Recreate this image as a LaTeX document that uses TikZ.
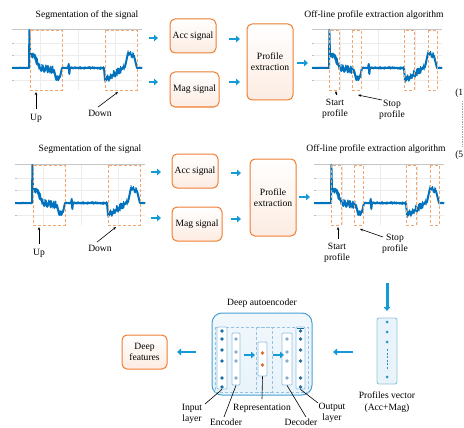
\documentclass[tikz,border=0pt]{standalone}
\usepackage{fontspec}
\setmainfont{Liberation Serif}
\usetikzlibrary{arrows.meta,calc}
\newdimen\px \px=0.75pt
\definecolor{sigblue}{RGB}{0,114,189}
\definecolor{arrblue}{RGB}{20,155,215}
\definecolor{oline}{RGB}{237,125,49}
\definecolor{odash}{RGB}{245,165,110}
\definecolor{ofill}{RGB}{253,236,226}
\definecolor{aeline}{RGB}{70,160,210}
\definecolor{aefill}{RGB}{232,243,250}
\definecolor{colline}{RGB}{150,195,225}
\definecolor{dotdark}{RGB}{25,110,170}
\definecolor{dotlight}{RGB}{140,170,200}
\definecolor{dotor}{RGB}{230,110,40}
\definecolor{vecdot}{RGB}{40,145,205}
\tikzset{
  sig/.style={draw=sigblue, line width=0.9\px, line join=round},
  gridl/.style={draw=gray!15, line width=0.6\px},
  framel/.style={draw=gray!45, line width=0.8\px},
  segbox/.style={draw=odash, dash pattern=on 3\px off 2\px, line width=0.8\px},
  obox/.style={draw=oline, line width=1\px, rounded corners=5\px, top color=white, bottom color=ofill, align=center, inner sep=1\px},
  barrow/.style={draw=arrblue, fill=arrblue, line width=2.6\px, -{Triangle[length=3pt, width=4.9pt]}},
  lblline/.style={draw=black, line width=0.6\px},
  lblarr/.style={draw=black, line width=0.6\px, -{Stealth[length=2.3pt, width=1.9pt]}},
  colbox/.style={draw=colline, fill=white, line width=0.8\px, rounded corners=1\px, inner sep=0},
  aedash/.style={draw=colline, dash pattern=on 3\px off 2\px, line width=0.9\px},
}
\newcommand{\plotbg}{%
  \foreach \gx in {28,66,103} {\draw[gridl] (\gx,0) -- (\gx,61);}
  \foreach \gy in {14,26,51} {\draw[gridl] (0,\gy) -- (130,\gy); \draw[gray!50, line width=0.6\px] (0,\gy) -- (2,\gy);}
  \draw[framel] (0,0) -- (130,0);
}
\newcommand{\drawsignal}{%
  \pgfmathsetseed{11}
  \draw[sig, line width=2\px] (0,39) -- (17,39) -- (17.4,1) -- (18,26) -- (22,27) -- (28,39) -- (42,41) -- (44,50) -- (48,48) -- (50,39) -- (56,39) -- (56.7,35) -- (57.3,45) -- (58,39) -- (92,39) -- (93,51) -- (113,38) -- (116,24) -- (122,27) -- (125,39) -- (130,39);
  \foreach \a/\b/\ya/\yb/\amp/\n in {0/17/39/39/1/30, 18/22/26/27/3/20, 22/28/27/39/4/30, 28/42/39/41/4/70, 44/48/50/48/3.5/25, 50/56/39/39/1/15, 58/92/39/39/1.4/90, 93/113/51/38/4/90, 116/122/24/27/3/30, 125/130/39/39/1/10}
  {\draw[sig] plot[domain=\a:\b, samples=\n] (\x, {\ya+(\yb-\ya)*(\x-\a)/(\b-\a)+\amp*rand});}
}
\newcommand{\segboxes}{%
  \draw[segbox] (18,1) rectangle (50,61);
  \draw[segbox] (93,1) rectangle (125,61);
}
\newcommand{\profboxes}{%
  \foreach \l/\r in {17/27, 40/49, 92/102, 116/125} {\draw[segbox] (\l,1) rectangle (\r,61);}
}
\begin{document}
\begin{tikzpicture}[x=0.75pt, y=-0.75pt, font=\fontsize{7.2}{8.4}\selectfont]
\useasboundingbox (0,0) rectangle (464,428);

% ---------- Row 1 ----------
\node (t1) at (87,15) {Segmentation of the signal};
\begin{scope}[shift={(12,29)}]
  \plotbg \drawsignal \segboxes
\end{scope}
\node (t2) at (374,15) {Off-line profile extraction algorithm};
\begin{scope}[shift={(312,29)}]
  \plotbg \drawsignal \profboxes
\end{scope}

\node[obox, minimum width=46\px, minimum height=34\px] (acc1) at (193,36) {Acc signal};
\node[obox, minimum width=49\px, minimum height=35\px] (mag1) at (194.5,89.5) {Mag signal};
\node[obox, minimum width=46\px, minimum height=76\px] (prof1) at (270,62) {Profile\\extraction};

\coordinate (a1s) at (149,38); \coordinate (a1e) at (158,38);
\coordinate (a2s) at (149,82); \coordinate (a2e) at (158,82);
\coordinate (a3s) at (229,39); \coordinate (a3e) at (240,39);
\coordinate (a4s) at (229,82); \coordinate (a4e) at (240,82);
\coordinate (a5s) at (297,63); \coordinate (a5e) at (308,63);
\foreach \i in {1,...,5} {\draw[barrow] (a\i s) -- (a\i e);}

\node (up1) at (36,118) {Up};
\coordinate (up1t) at (36,92);
\draw[lblarr] (up1.north) -- (up1t);
\node (dn1) at (100,113) {Down};
\coordinate (dn1t) at (118,92);
\draw[lblarr] ($(dn1.north)+(-2,2)$) -- (dn1t);
\node[align=center] (st1) at (335,108.5) {Start\\profile};
\coordinate (st1t) at (336,91);
\draw[lblarr] (st1.north) ++(1,1) -- (st1t);
\node[align=center] (sp1) at (392,110) {Stop\\profile};
\coordinate (sp1s) at (382,100); \coordinate (sp1t) at (358,95);
\draw[lblarr] (sp1s) -- (sp1t);

% ---------- Row 2 ----------
\node (t3) at (90,149) {Segmentation of the signal};
\begin{scope}[shift={(15,164)}]
  \plotbg \drawsignal \segboxes
\end{scope}
\node (t4) at (376,149) {Off-line profile extraction algorithm};
\begin{scope}[shift={(314,164)}]
  \plotbg \drawsignal \profboxes
\end{scope}

\node[obox, minimum width=46\px, minimum height=34\px] (acc2) at (195,171) {Acc signal};
\node[obox, minimum width=50\px, minimum height=34\px] (mag2) at (197,224) {Mag signal};
\node[obox, minimum width=46\px, minimum height=77\px] (prof2) at (273,197.5) {Profile\\extraction};

\coordinate (b1s) at (151,172); \coordinate (b1e) at (161,172);
\coordinate (b2s) at (151,218); \coordinate (b2e) at (161,218);
\coordinate (b3s) at (231,173); \coordinate (b3e) at (241,173);
\coordinate (b4s) at (231,219); \coordinate (b4e) at (241,219);
\coordinate (b5s) at (299,197); \coordinate (b5e) at (310,197);
\foreach \i in {1,...,5} {\draw[barrow] (b\i s) -- (b\i e);}

\node (up2) at (39,253) {Up};
\coordinate (up2t) at (39,227);
\draw[lblarr] (up2.north) -- (up2t);
\node (dn2) at (100,248) {Down};
\coordinate (dn2t) at (116,227);
\draw[lblarr] ($(dn2.north)+(-3,2)$) -- (dn2t);
\node[align=center] (st2) at (337,252.5) {Start\\profile};
\coordinate (st2t) at (338,227);
\draw[lblarr] (st2.north) ++(1,1) -- (st2t);
\node[align=center] (sp2) at (395,243.5) {Stop\\profile};
\coordinate (sp2s) at (383,237); \coordinate (sp2t) at (360,229);
\draw[lblarr] (sp2s) -- (sp2t);

% right edge marks
\node[anchor=west, inner sep=0] (r1) at (455,93) {(1};
\node[anchor=west, inner sep=0] (r5) at (455,155) {(5};
\coordinate (rd1) at (462,101); \coordinate (rd2) at (462,147);
\draw[gray!70, dash pattern=on 1.5\px off 1\px, line width=1\px] (rd1) -- (rd2);

% ---------- Bottom ----------
\coordinate (dvs) at (387,283); \coordinate (dve) at (387,311);
\draw[barrow, line width=3\px] (dvs) -- (dve);

\node[draw=colline, fill=aefill, line width=0.9\px, rounded corners=2\px, minimum width=20\px, minimum height=66\px, inner sep=0] (vec) at (387,351) {};
\foreach \vy in {322,332,342,377} {\fill[vecdot] (387,\vy) circle[radius=1.5\px];}
\draw[vecdot, dash pattern=on 2\px off 1.5\px, line width=0.8\px] (387,349) -- (387,370);
\node[align=center, anchor=north] (veclbl) at ($(vec.south)+(0,3)$) {Profiles vector\\(Acc+Mag)};

\coordinate (l1s) at (353,352); \coordinate (l1e) at (333,352);
\draw[barrow] (l1s) -- (l1e);

\node (aet) at (262,303) {Deep autoencoder};
\node[draw=aeline, line width=1\px, rounded corners=10\px, top color=aefill!60, bottom color=aefill, minimum width=100\px, minimum height=82\px] (ae) at (262,354) {};
\draw[aedash] (215,327) rectangle (272,392);
\draw[aedash] (256,327) rectangle (308,392);

\node[colbox, minimum width=10\px, minimum height=62\px] (inl) at (222,358) {};
\node[colbox, minimum width=8\px, minimum height=52\px] (enc) at (236,359) {};
\node[colbox, minimum width=9\px, minimum height=34\px] (rep) at (262.5,359) {};
\node[colbox, minimum width=10\px, minimum height=52\px] (dec) at (287,359) {};
\node[colbox, minimum width=9\px, minimum height=62\px] (outl) at (300.5,358) {};
\foreach \dy in {331,339,350,361,378,387} {
  \fill[dotdark] (222,\dy) circle[radius=1.9\px];
  \fill[dotdark] (300.5,\dy) circle[radius=1.9\px];
}
\foreach \dy in {339,352,361,378} {
  \fill[dotlight] (236,\dy) circle[radius=1.8\px];
  \fill[dotlight] (287,\dy) circle[radius=1.8\px];
}
\fill[dotor] (262.5,353) circle[radius=1.9\px];
\fill[dotor] (262.5,365) circle[radius=1.9\px];
\draw[dotdark, line width=0.8\px] (297,328) -- (304,328);

\coordinate (m1s) at (244,355); \coordinate (m1e) at (255,355);
\coordinate (m2s) at (273,355); \coordinate (m2e) at (284,355);
\draw[barrow, line width=2.2\px] (m1s) -- (m1e);
\draw[barrow, line width=2.2\px] (m2s) -- (m2e);

\node[obox, minimum width=45\px, minimum height=34\px] (df) at (144.5,352) {Deep\\features};
\coordinate (l2s) at (196,352); \coordinate (l2e) at (177,352);
\draw[barrow] (l2s) -- (l2e);

\node[align=center] (inlbl) at (192,414) {Input\\layer};
\coordinate (inlp) at (205,404);
\draw[lblline] (inlp) -- (inl.south);
\node (enclbl) at (226,422) {Encoder};
\coordinate (encp) at (224,417);
\draw[lblline] (encp) -- (enc.south);
\node (replbl) at (262,408) {Representation};
\draw[lblline] (replbl.north) -- (rep.south);
\node (declbl) at (301,422) {Decoder};
\coordinate (decp) at (306,417);
\draw[lblline] (decp) -- (dec.south);
\node[align=center] (outlbl) at (332,413) {Output\\layer};
\coordinate (outp) at (318,403);
\draw[lblline] (outp) -- (outl.south);
\end{tikzpicture}
\end{document}
